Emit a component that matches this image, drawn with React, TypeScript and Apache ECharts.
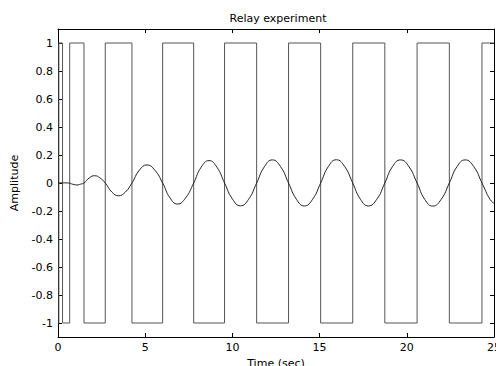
import React, { useEffect, useRef } from "react";
import * as echarts from "echarts";

// Relay output: level held from each switch time until the next one
const relaySwitchTimes = [0, 0.05, 0.26, 0.67, 1.49, 2.71, 4.24, 6.0, 7.78, 9.55, 11.39, 13.22, 15.06, 16.9, 18.74, 20.59, 22.44, 24.31, 25];
const relayLevels = [-1, 1, -1, 1, -1, 1, -1, 1, -1, 1, -1, 1, -1, 1, -1, 1, -1, 1, 1];

// Process output
const outputTimes = [
  0, 0.3, 0.61, 0.85, 1.09, 1.3, 1.49,
  1.8, 2.1, 2.4, 2.71,
  3.09, 3.47, 3.86, 4.24,
  4.67, 5.1, 5.55, 6.0,
  6.42, 6.85, 7.32, 7.78,
  8.21, 8.66, 9.11, 9.55,
  10.01, 10.46, 10.93, 11.39,
  11.84, 12.29, 12.76, 13.22,
  13.67, 14.12, 14.6, 15.06,
  15.5, 15.96, 16.44, 16.9,
  17.34, 17.8, 18.28, 18.74,
  19.18, 19.64, 20.12, 20.59,
  21.03, 21.49, 21.97, 22.44,
  22.88, 23.35, 23.84, 24.31,
  24.77, 25,
];
const outputValues = [
  0, 0.001, 0, -0.009, -0.014, -0.008, 0,
  0.037, 0.052, 0.037, 0,
  -0.065, -0.091, -0.065, 0,
  0.092, 0.129, 0.092, 0,
  -0.106, -0.15, -0.106, 0,
  0.113, 0.16, 0.113, 0,
  -0.116, -0.163, -0.116, 0,
  0.117, 0.165, 0.117, 0,
  -0.116, -0.164, -0.116, 0,
  0.117, 0.166, 0.117, 0,
  -0.116, -0.164, -0.116, 0,
  0.117, 0.165, 0.117, 0,
  -0.117, -0.165, -0.117, 0,
  0.117, 0.165, 0.117, 0,
  -0.117, -0.145,
];

const xTicks = [0, 5, 10, 15, 20, 25];
const yTicks = [-1, -0.8, -0.6, -0.4, -0.2, 0, 0.2, 0.4, 0.6, 0.8, 1];

const FONT = "DejaVu Sans";

export default function App() {
  const ref = useRef<HTMLDivElement>(null);
  useEffect(() => {
    if (!ref.current) return;
    const chart = echarts.init(ref.current, undefined, { renderer: "svg" });
    const axisLine = { show: true, onZero: false, lineStyle: { color: "#000", width: 1 } };
    const tick = { show: true, inside: true, length: 4, lineStyle: { color: "#000", width: 1 } };
    const label = { color: "#000", fontFamily: FONT, fontSize: 11 };
    chart.setOption({
      animation: false,
      backgroundColor: "#fff",
      title: {
        text: "Relay experiment",
        left: 273,
        top: 8,
        textAlign: "center",
        textStyle: { color: "#000", fontFamily: FONT, fontSize: 11, fontWeight: "normal" },
      },
      grid: { left: 58, right: 2, top: 29, bottom: 29, outerBoundsMode: "none", containLabel: false },
      xAxis: [
        {
          type: "value",
          min: xTicks[0],
          max: xTicks[xTicks.length - 1],
          interval: 5,
          position: "bottom",
          axisLine,
          axisTick: tick,
          splitLine: { show: false },
          axisLabel: { ...label, margin: 5 },
          name: "Time (sec)",
          nameLocation: "middle",
          nameGap: 19,
          nameTextStyle: label,
        },
        {
          type: "value",
          min: xTicks[0],
          max: xTicks[xTicks.length - 1],
          interval: 5,
          position: "top",
          axisLine,
          axisTick: tick,
          splitLine: { show: false },
          axisLabel: { show: false },
        },
      ],
      yAxis: [
        {
          type: "value",
          min: -1.1,
          max: 1.1,
          position: "left",
          axisLine,
          axisTick: { ...tick, customValues: yTicks },
          splitLine: { show: false },
          axisLabel: { ...label, margin: 5, customValues: yTicks },
          name: "Amplitude",
          nameLocation: "middle",
          nameGap: 38,
          nameTextStyle: label,
        },
        {
          type: "value",
          min: -1.1,
          max: 1.1,
          position: "right",
          axisLine,
          axisTick: { ...tick, customValues: yTicks },
          splitLine: { show: false },
          axisLabel: { show: false, customValues: yTicks },
        },
      ],
      series: [
        {
          type: "line",
          xAxisIndex: 0,
          yAxisIndex: 0,
          step: "end",
          symbol: "none",
          lineStyle: { color: "#555", width: 1 },
          data: relaySwitchTimes.map((t, i) => [t, relayLevels[i]]),
        },
        {
          type: "line",
          xAxisIndex: 0,
          yAxisIndex: 0,
          smooth: true,
          symbol: "none",
          lineStyle: { color: "#222", width: 1 },
          data: outputTimes.map((t, i) => [t, outputValues[i]]),
        },
      ],
    });
    return () => chart.dispose();
  }, []);
  return (
    <div
      ref={ref}
      style={{ position: "absolute", left: 0, top: 0, width: 496, height: 366, background: "#fff" }}
    />
  );
}
